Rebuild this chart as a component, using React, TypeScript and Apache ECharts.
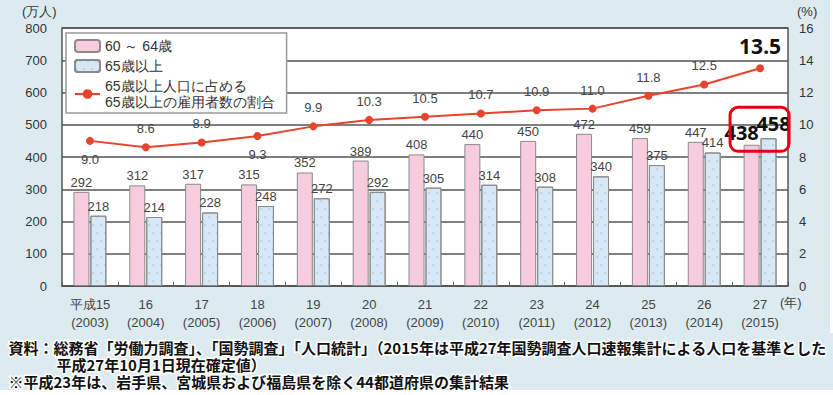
import React, { useEffect, useRef } from "react";
import * as echarts from "echarts";

const categories = ["平成15\n(2003)", "16\n(2004)", "17\n(2005)", "18\n(2006)", "19\n(2007)", "20\n(2008)", "21\n(2009)", "22\n(2010)", "23\n(2011)", "24\n(2012)", "25\n(2013)", "26\n(2014)", "27\n(2015)"];
const age60to64 = [292, 312, 317, 315, 352, 389, 408, 440, 450, 472, 459, 447, 438];
const age65plus = [218, 214, 228, 248, 272, 292, 305, 314, 308, 340, 375, 414, 458];
const ratio65 = [9.0, 8.6, 8.9, 9.3, 9.9, 10.3, 10.5, 10.7, 10.9, 11.0, 11.8, 12.5, 13.5];
const ratioBelow = [0, 3];
const leftTicks = { min: 0, max: 800, interval: 100 };
const rightTicks = { min: 0, max: 16, interval: 2 };
const names = ["60 ～ 64歳", "65歳以上", "65歳以上人口に占める\n65歳以上の雇用者数の割合"];
const footer1 = "資料：総務省「労働力調査」、「国勢調査」「人口統計」（2015年は平成27年国勢調査人口速報集計による人口を基準とした";
const footer2 = "平成27年10月1日現在確定値）";
const footer3 = "※平成23年は、岩手県、宮城県および福島県を除く44都道府県の集計結果";

const FONT = "'Liberation Sans', Arial, sans-serif";
const CJK = "'Noto Sans CJK JP', sans-serif";
const last = categories.length - 1;

export default function App() {
  const ref = useRef<HTMLDivElement>(null);
  useEffect(() => {
    if (!ref.current) return;
    const chart = echarts.init(ref.current, null, { renderer: "svg" });
    const bigLabel = { fontSize: 20, fontWeight: "bold", color: "#111", fontFamily: "'Noto Sans', sans-serif" };
    const footerStyle = {
      fontSize: 15,
      lineHeight: 15,
      fontWeight: "bold",
      fill: "#111",
      stroke: "#fff",
      lineWidth: 3,
      strokeFirst: true,
      fontFamily: CJK,
    };
    const option: any = {
      animation: false,
      backgroundColor: "#dcebf0",
      textStyle: { fontFamily: FONT },
      grid: { left: 62, right: 45, top: 28, bottom: 109, show: true, backgroundColor: "#fff", borderColor: "#555", borderWidth: 1.5 },
      legend: {
        orient: "vertical",
        left: 66,
        top: 33,
        backgroundColor: "#fff",
        borderColor: "#999",
        borderWidth: 1.5,
        borderRadius: 0,
        padding: [5, 12, 3, 8],
        itemWidth: 25,
        itemHeight: 12,
        itemGap: 4,
        textStyle: { fontSize: 14, color: "#333", fontFamily: FONT, lineHeight: 16 },
        data: names,
      },
      xAxis: {
        type: "category",
        data: categories,
        axisLine: { lineStyle: { color: "#555", width: 1.5 } },
        axisTick: { show: true, inside: true, length: 4, lineStyle: { color: "#555" } },
        axisLabel: { color: "#444", fontSize: 13, lineHeight: 18, margin: 9, fontFamily: FONT },
      },
      yAxis: [
        {
          type: "value",
          ...leftTicks,
          axisLine: { show: false },
          axisTick: { show: false },
          axisLabel: { color: "#333", fontSize: 13, margin: 15, fontFamily: FONT },
          splitLine: { lineStyle: { color: "#555", width: 1.5 } },
        },
        {
          type: "value",
          ...rightTicks,
          axisLine: { show: false },
          axisTick: { show: false },
          axisLabel: { color: "#333", fontSize: 13, margin: 11, fontFamily: FONT },
          splitLine: { show: false },
        },
      ],
      series: [
        {
          name: names[0],
          type: "bar",
          barWidth: 16,
          barGap: "6%",
          data: age60to64.map((v, i) =>
            i === last
              ? { value: v, label: { ...bigLabel, offset: [-10, 0], distance: 2 } }
              : v
          ),
          itemStyle: { color: "#f7cddd", borderColor: "#8a8a8a", borderWidth: 1 },
          label: { show: true, position: "top", distance: 3, color: "#444", fontSize: 13, fontFamily: FONT },
        },
        {
          name: names[1],
          type: "bar",
          barWidth: 16,
          barGap: "6%",
          data: age65plus.map((v, i) =>
            i === last
              ? { value: v, label: { ...bigLabel, offset: [5, 0], distance: 5 } }
              : v
          ),
          itemStyle: {
            color: "#d6e8f6",
            borderColor: "#8a8a8a",
            borderWidth: 1,
            decal: {
              symbol: "circle",
              symbolSize: 0.6,
              color: "rgba(110,150,180,0.7)",
              dashArrayX: [[2, 6], [0, 4, 2, 2]],
              dashArrayY: [2, 6],
              rotation: 0,
            },
          },
          label: { show: true, position: "top", distance: 3, color: "#444", fontSize: 13, fontFamily: FONT },
        },
        {
          name: names[2],
          type: "line",
          yAxisIndex: 1,
          data: ratio65.map((v, i) => {
            if (i === last) return { value: v, label: { ...bigLabel, fontSize: 21, distance: 8 } };
            if (ratioBelow.includes(i)) return { value: v, label: { position: "bottom" } };
            return v;
          }),
          symbol: "circle",
          symbolSize: 8,
          lineStyle: { color: "#e8432c", width: 2 },
          itemStyle: { color: "#e8432c" },
          label: {
            show: true,
            position: "top",
            distance: 8,
            color: "#444",
            fontSize: 13,
            fontFamily: FONT,
            formatter: (p: any) => Number(p.value).toFixed(1),
          },
        },
      ],
      graphic: [
        { type: "text", left: 22, top: 5, style: { text: "(万人)", fontSize: 13, fill: "#333", fontFamily: FONT } },
        { type: "text", left: 797, top: 5, style: { text: "(%)", fontSize: 13, fill: "#333", fontFamily: FONT } },
        { type: "text", left: 780, top: 296, style: { text: "(年)", fontSize: 13, fill: "#444", fontFamily: FONT } },
        { type: "rect", shape: { x: 830, y: 0, width: 3, height: 333 }, style: { fill: "#fff" }, silent: true },
        { type: "rect", shape: { x: 0, y: 390, width: 833, height: 5 }, style: { fill: "#fff" }, silent: true },
        { type: "text", left: 7, top: 338, style: { text: footer1, ...footerStyle } },
        { type: "text", left: 55, top: 355, style: { text: footer2, ...footerStyle } },
        { type: "text", left: 7, top: 372, style: { text: footer3, ...footerStyle } },
      ],
    };
    chart.setOption(option);
    const p = chart.convertToPixel({ xAxisIndex: 0, yAxisIndex: 0 }, [last, age65plus[last]]) as number[];
    if (p) {
      chart.setOption({
        graphic: [
          ...option.graphic,
          {
            type: "rect",
            shape: { x: p[0] - 30, y: p[1] - 31, width: 59, height: 44, r: 8 },
            style: { fill: "none", stroke: "#e60012", lineWidth: 3 },
            z: 10,
          },
        ],
      });
    }
    return () => chart.dispose();
  }, []);
  return <div ref={ref} style={{ position: "fixed", left: 0, top: 0, width: 833, height: 395 }} />;
}
